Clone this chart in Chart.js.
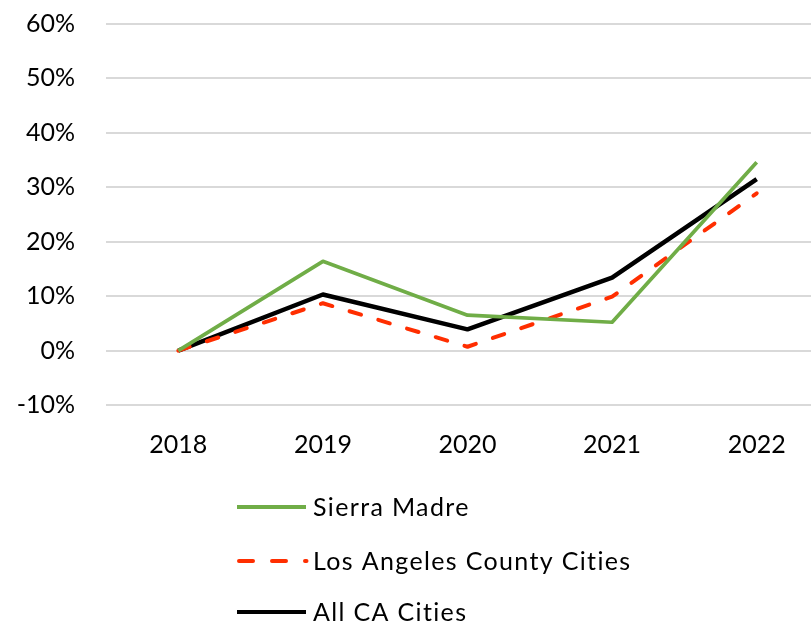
<!DOCTYPE html>
<html>
<head>
<meta charset="utf-8">
<script src="https://cdn.jsdelivr.net/npm/chart.js@4.4.1/dist/chart.umd.min.js"></script>
<style>
  html, body { margin: 0; padding: 0; background: #fff; overflow: hidden; }
  #wrap { width: 811px; height: 625px; overflow: hidden; position: relative; }
  canvas { display: block; }
</style>
</head>
<body>
<div id="wrap"><canvas id="c" width="830" height="625"></canvas></div>
<script>
const categories = ['2018', '2019', '2020', '2021', '2022'];
const sierraMadre = [0, 16.4, 6.5, 5.2, 34.6];
const laCountyCities = [0, 8.7, 0.7, 9.9, 28.9];
const allCaCities = [0, 10.3, 3.9, 13.4, 31.5];
const seriesNames = ['Sierra Madre', 'Los Angeles County Cities', 'All CA Cities'];
const yMin = -10, yMax = 60, yStep = 10;

const FONT = 'Lato, "Open Sans", sans-serif';

const legendPlugin = {
  id: 'vlegend',
  afterDraw(chart) {
    const ctx = chart.ctx;
    const rows = [507, 561, 612];
    ctx.save();
    chart.data.datasets.forEach((ds, i) => {
      const y = rows[i];
      const dashed = ds.borderDash && ds.borderDash.length;
      ctx.beginPath();
      ctx.strokeStyle = ds.borderColor;
      ctx.lineWidth = 4;
      ctx.lineCap = dashed ? 'round' : 'butt';
      ctx.setLineDash(dashed ? [14, 19] : []);
      ctx.moveTo(dashed ? 239 : 237, y);
      ctx.lineTo(dashed ? 306.5 : 306, y);
      ctx.stroke();
      ctx.setLineDash([]);
      ctx.fillStyle = '#000';
      ctx.font = '25px ' + FONT;
      ctx.textBaseline = 'middle';
      ctx.textAlign = 'left';
      try { ctx.letterSpacing = '1.35px'; } catch (e) {}
      ctx.fillText(ds.label, 313, y + 1);
    });
    ctx.restore();
  }
};

new Chart(document.getElementById('c'), {
  type: 'line',
  data: {
    labels: categories,
    datasets: [
      { label: seriesNames[0], data: sierraMadre, borderColor: '#70AD47', borderWidth: 3.7, pointRadius: 0, tension: 0, order: 1, borderJoinStyle: 'round' },
      { label: seriesNames[1], data: laCountyCities, borderColor: '#FF2E00', borderWidth: 4, borderDash: [12, 18], borderCapStyle: 'round', pointRadius: 0, tension: 0, order: 2, borderJoinStyle: 'round' },
      { label: seriesNames[2], data: allCaCities, borderColor: '#000000', borderWidth: 4.5, pointRadius: 0, tension: 0, order: 3, borderJoinStyle: 'round' }
    ]
  },
  options: {
    responsive: false,
    devicePixelRatio: 1,
    animation: false,
    layout: { padding: { top: 24, right: 1, bottom: 160, left: 0 } },
    plugins: { legend: { display: false }, tooltip: { enabled: false } },
    scales: {
      x: {
        offset: true,
        grid: { display: false, drawTicks: false },
        border: { display: false },
        ticks: { color: '#000', font: { family: FONT, size: 25 }, padding: 25 },
        afterFit(s) { s.height = 60; }
      },
      y: {
        min: yMin, max: yMax,
        grid: { color: '#d9d9d9', lineWidth: 2, drawTicks: true, tickLength: 31, tickColor: 'rgba(0,0,0,0)' },
        border: { display: false },
        ticks: { stepSize: yStep, color: '#000', font: { family: FONT, size: 25 }, padding: 0,
          callback: v => v + '%' },
        afterFit(s) { s.width = 106; }
      }
    }
  },
  plugins: [legendPlugin]
});
</script>
</body>
</html>
